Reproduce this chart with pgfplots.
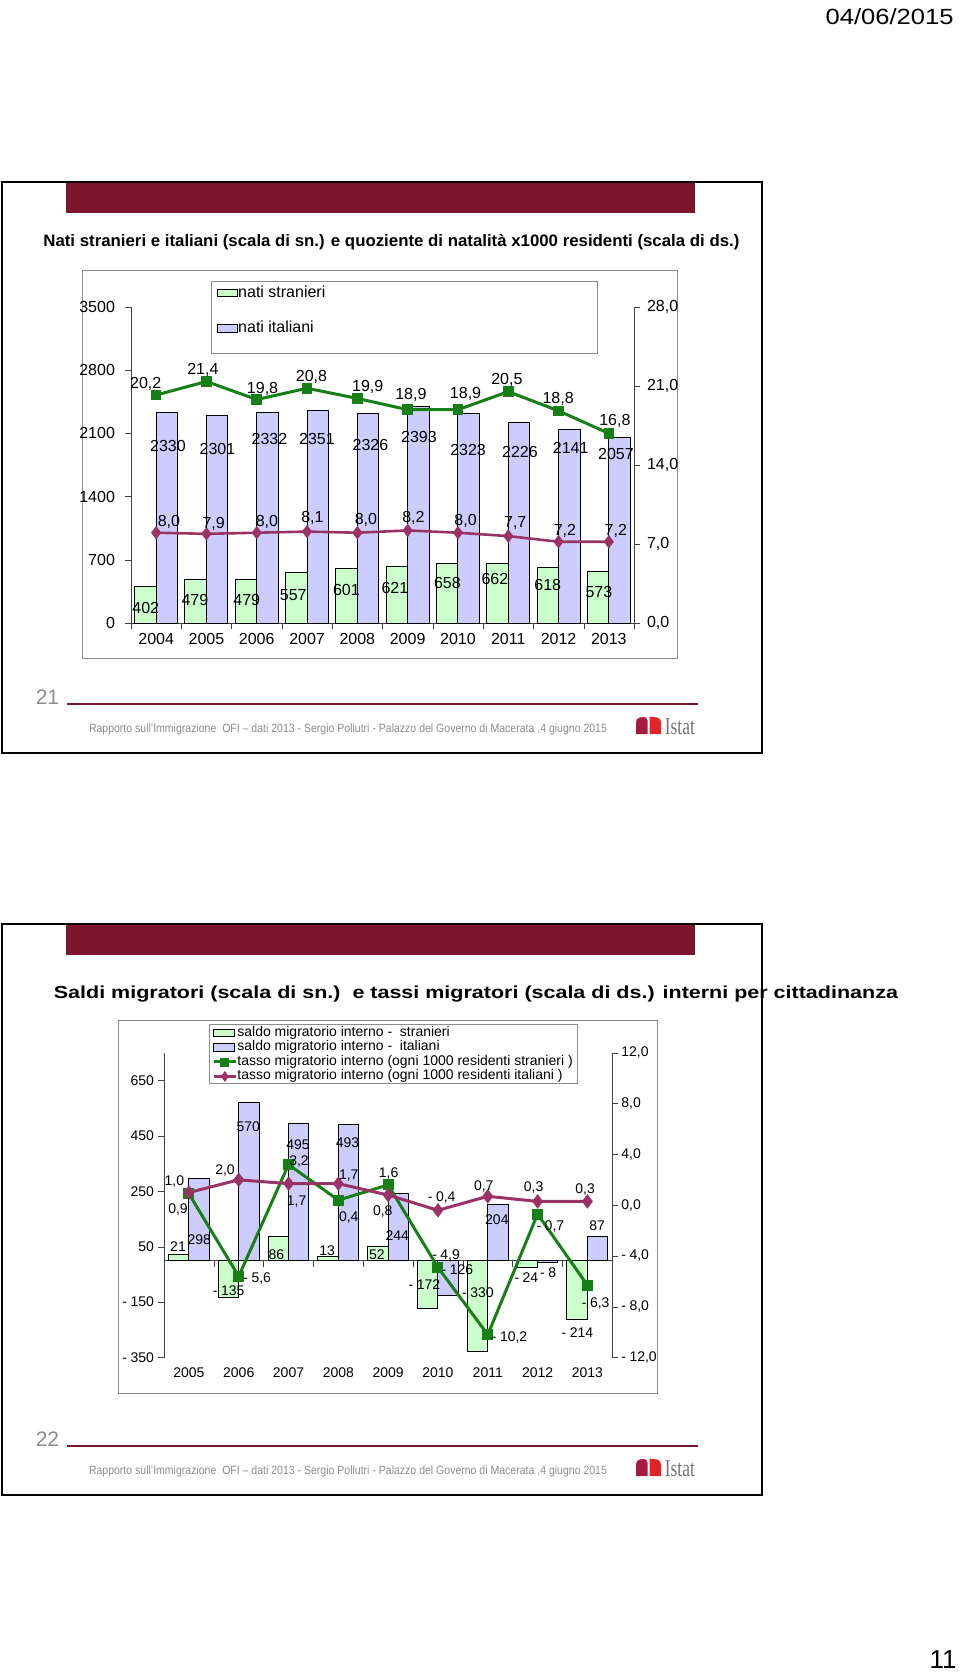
\documentclass[border=0pt]{standalone}
\usepackage{pgfplots}
\pgfplotsset{compat=1.18}
\usepackage{pgfplotstable}
\usepackage{graphicx}
\usepackage{fontspec}
\setmainfont{Liberation Sans}
\newfontfamily\seriffont{Liberation Serif}

\definecolor{hdr}{RGB}{124,22,44}
\definecolor{stgreen}{RGB}{204,255,204}
\definecolor{itpurple}{RGB}{204,204,255}
\definecolor{slgreen}{RGB}{22,128,22}
\definecolor{slpurple}{RGB}{153,51,102}
\definecolor{footgray}{RGB}{140,140,140}
\definecolor{framegray}{RGB}{140,140,140}
\definecolor{logoA}{RGB}{165,28,62}
\definecolor{logoB}{RGB}{226,36,38}

\newcommand\fa{\fontsize{8}{9.6}\selectfont}
\newcommand\fb{\fontsize{7}{8.4}\selectfont}
\newcommand\m{-\kern0.25em}
% value label #3, centred #1 pt right and #2 pt above its point
\newcommand\lb[3]{\smash{\raisebox{\dimexpr#2pt-0.36em\relax}{\makebox[0pt]{\hspace{#1pt}\hspace{#1pt}#3}}}}

% #1 font, #2 bar shift of the series
\pgfplotsset{
  lbl/.style 2 args={nodes near coords, point meta=explicit symbolic,
    every node near coord/.append style={anchor=base, inner sep=0pt,
      text=black, font=#1, xshift=#2}},
}

% slide 21: nati stranieri / italiani, quoziente di natalita
\pgfplotstableread{
x y lab
0 402 \lb{0.2}{-10.7}{402}
1 479 \lb{-0.4}{-10.2}{479}
2 479 \lb{0.4}{-10.2}{479}
3 557 \lb{-1.5}{-10.9}{557}
4 601 \lb{-0.1}{-10.6}{601}
5 621 \lb{-1.0}{-10.4}{621}
6 658 \lb{0.1}{-9.5}{658}
7 662 \lb{-1.3}{-7.6}{662}
8 618 \lb{0.0}{-8.7}{618}
9 573 \lb{0.4}{-10.1}{573}
}\natiS
\pgfplotstableread{
x y lab
0 2330 \lb{0.5}{-16.7}{2330}
1 2301 \lb{0.1}{-16.9}{2301}
2 2332 \lb{1.0}{-13.3}{2332}
3 2351 \lb{-0.4}{-14.2}{2351}
4 2326 \lb{1.2}{-16.0}{2326}
5 2393 \lb{0.3}{-15.1}{2393}
6 2323 \lb{-0.3}{-18.4}{2323}
7 2226 \lb{0.5}{-15.0}{2226}
8 2141 \lb{0.7}{-9.2}{2141}
9 2057 \lb{-1.8}{-8.1}{2057}
}\natiI
\pgfplotstableread{
x y lab
0 20.2 \lb{-5.2}{6.0}{20,2}
1 21.4 \lb{-1.8}{6.5}{21,4}
2 19.8 \lb{2.9}{6.0}{19,8}
3 20.8 \lb{2.2}{6.1}{20,8}
4 19.9 \lb{5.2}{6.3}{19,9}
5 18.9 \lb{1.6}{7.8}{18,9}
6 18.9 \lb{3.8}{8.3}{18,9}
7 20.5 \lb{-0.7}{6.4}{20,5}
8 18.8 \lb{-0.2}{6.4}{18,8}
9 16.8 \lb{3.0}{6.8}{16,8}
}\quozS
\pgfplotstableread{
x y lab
0 8.0 \lb{6.4}{6.1}{8,0}
1 7.9 \lb{3.6}{5.4}{7,9}
2 8.0 \lb{5.1}{6.1}{8,0}
3 8.1 \lb{2.7}{7.4}{8,1}
4 8.0 \lb{4.3}{7.0}{8,0}
5 8.2 \lb{2.9}{6.9}{8,2}
6 8.0 \lb{3.8}{6.7}{8,0}
7 7.7 \lb{3.5}{7.2}{7,7}
8 7.2 \lb{3.2}{6.2}{7,2}
9 7.2 \lb{3.5}{6.2}{7,2}
}\quozI

% slide 22: saldi e tassi migratori interni
\pgfplotstableread{
x y lab
0 21 \lb{-0.35}{4.4}{21}
1 -135 \lb{0.1}{3.8}{\m135}
2 86 \lb{-1.0}{-8.6}{86}
3 13 \lb{-0.55}{3.3}{13}
4 52 \lb{-0.55}{-4.2}{52}
5 -172 \lb{-1.65}{12.1}{\m172}
6 -330 \lb{0.15}{30.0}{\m330}
7 -24 \lb{-0.5}{-4.9}{\m24}
8 -214 \lb{0.15}{-6.55}{\m214}
}\saldoS
\pgfplotstableread{
x y lab
0 298 \lb{0.1}{-30.75}{298}
1 570 \lb{-0.35}{-12.1}{570}
2 495 \lb{-0.35}{-10.4}{495}
3 493 \lb{-0.55}{-8.95}{493}
4 244 \lb{-0.55}{-21.0}{244}
5 -126 \lb{4.65}{13.1}{\m126}
6 204 \lb{-0.55}{-7.6}{204}
7 -8 \lb{0.15}{-5.05}{\m8}
8 87 \lb{-0.25}{5.55}{87}
}\saldoI
\pgfplotstableread{
x y lab
0 0.9 \lb{-5.45}{-7.4}{0,9}
1 -5.6 \lb{9.25}{-0.35}{\m5,6}
2 3.2 \lb{5.25}{2.1}{3,2}
3 0.4 \lb{5.2}{-8.15}{0,4}
4 1.6 \lb{0.25}{6.0}{1,6}
5 -4.9 \lb{4.05}{6.7}{\m4,9}
6 -10.2 \lb{10.9}{-0.7}{\m10,2}
7 -0.7 \lb{6.4}{-5.65}{\m0,7}
8 -6.3 \lb{4.15}{-8.45}{\m6,3}
}\tassoS
\pgfplotstableread{
x y lab
0 1.0 \lb{-7.25}{6.25}{1,0}
1 2.0 \lb{-6.85}{5.25}{2,0}
2 1.7 \lb{4.05}{-8.4}{1,7}
3 1.7 \lb{5.2}{4.65}{1,7}
4 0.8 \lb{-2.7}{-7.5}{0,8}
5 -0.4 \lb{1.85}{7.15}{\m0,4}
6 0.7 \lb{-2.0}{5.65}{0,7}
7 0.3 \lb{-2.0}{7.7}{0,3}
8 0.3 \lb{-1.15}{6.4}{0,3}
}\tassoI

% slide frame, header, footer and logo (px units, shifted by #1 px)
\newcommand\slideframe[2]{%
\begin{scope}[shift={(0,#1)}]
  \draw[line width=1.1pt] (2,182) rectangle (762,753);
  \fill[hdr] (66,183) rectangle (695,213);
  \node[text=footgray, inner sep=0pt] at (47.5,697) {\fontsize{10.5}{12}\selectfont #2};
  \draw[hdr, line width=1pt] (67,704) -- (698,704);
  \node[anchor=base west, inner sep=0pt, text=footgray] at (88.6,732)
    {\resizebox{259pt}{\height}{\fontsize{6}{7}\selectfont Rapporto sull'Immigrazione\ \ OFI -- dati 2013 - Sergio Pollutri - Palazzo del Governo di Macerata ,4 giugno 2015}};
  \fill[logoA] (636,734) [rounded corners=2pt] -- (636,718) -- (647.5,716.5) [sharp corners] -- (647.5,734) -- cycle;
  \fill[logoB] (649.5,734) -- (649.5,716.5) [rounded corners=2pt] -- (661,718) [sharp corners] -- (661,734) -- cycle;
  \node[anchor=base west, inner sep=0pt, text=black!55] at (664.5,734)
    {\resizebox{15pt}{\height}{\fontsize{12}{12}\selectfont\seriffont Istat}};
\end{scope}}

\begin{document}
\begin{tikzpicture}
\begin{scope}[x=0.5pt,y=-0.5pt]
  \path[use as bounding box] (0,0) rectangle (960,1680);
  \node[anchor=east, inner sep=0pt] at (954,17)
    {\resizebox{64pt}{\height}{\fontsize{11}{13}\selectfont 04/06/2015}};
  \node[anchor=east, inner sep=0pt] at (957,1660) {\fontsize{13}{15}\selectfont 11};
  \slideframe{0}{21}
  \slideframe{742}{22}
  \node[anchor=base west, inner sep=0pt] at (43,246.5)
    {\resizebox{348pt}{\height}{\fontsize{8.3}{10}\selectfont\bfseries Nati stranieri e italiani (scala di sn.) e quoziente di natalità x1000 residenti (scala di ds.)}};
  \node[anchor=base west, inner sep=0pt] at (53.5,998.6)
    {\resizebox{422pt}{\height}{\fontsize{8.7}{10}\selectfont\bfseries Saldi migratori (scala di sn.)\ \ e tassi migratori (scala di ds.) interni per cittadinanza}};
  \draw[framegray] (82,270) rectangle (677,658.5);
  \draw[framegray, fill=white] (211,281) rectangle (597.7,353);
  \draw[framegray] (118.7,1020.7) rectangle (657.6,1393);
  \draw[framegray, fill=white] (209.7,1024.3) rectangle (577.5,1083.6);
\end{scope}

% ---------- slide 21 ----------
\begin{axis}[
  at={(65.5pt,-311.5pt)}, anchor=south west,
  scale only axis, width=251.5pt, height=158pt,
  xmin=-0.5, xmax=9.5, ymin=0, ymax=3500,
  axis y line*=left, axis x line*=bottom,
  axis line style={black!75}, tick style={black!75},
  tick align=outside, major tick length=3pt, minor tick length=3pt,
  xtick={0,...,9},
  xticklabels={2004,2005,2006,2007,2008,2009,2010,2011,2012,2013},
  major x tick style={draw=none},
  minor xtick={-0.5,0.5,...,9.5},
  ytick={0,700,...,3500}, yticklabels={0,700,1400,2100,2800,3500},
  tick label style={font=\fa},
  yticklabel style={xshift=-1.5pt}, xticklabel style={yshift=1.4pt},
  clip=false,
  legend style={at={(0.171,1.0709)}, anchor=north west, draw=none, fill=none,
    inner sep=0pt, row sep=9.7pt, font=\fa,
    nodes={inner sep=0pt, text height=6pt, text depth=2pt},
    cells={anchor=west}, /tikz/every even column/.append style={column sep=1.5pt}},
]
\addplot[ybar, bar width=10.75pt, bar shift=-5.375pt, draw=black, line width=0.5pt,
  fill=stgreen, lbl={\fa}{-5.375pt}, forget plot] table[x=x,y=y,meta=lab]{\natiS};
\addplot[ybar, bar width=10.75pt, bar shift=5.375pt, draw=black, line width=0.5pt,
  fill=itpurple, lbl={\fa}{5.375pt}, forget plot] table[x=x,y=y,meta=lab]{\natiI};
\addlegendimage{legend image code/.code={\draw[black, fill=stgreen] (0pt,-1.8pt) rectangle (10pt,1.8pt);}}
\addlegendentry{nati stranieri}
\addlegendimage{legend image code/.code={\draw[black, fill=itpurple] (0pt,-1.8pt) rectangle (10pt,1.8pt);}}
\addlegendentry{nati italiani}
\end{axis}

\begin{axis}[
  at={(65.5pt,-311.5pt)}, anchor=south west,
  scale only axis, width=251.5pt, height=158pt,
  xmin=-0.5, xmax=9.5, ymin=0, ymax=28,
  axis y line*=right, axis x line=none,
  axis line style={black!75}, tick style={black!75},
  tick align=outside, major tick length=3pt,
  ytick={0,7,...,28}, yticklabels={{0,0},{7,0},{14,0},{21,0},{28,0}},
  tick label style={font=\fa},
  clip=false,
]
\addplot[slgreen, line width=1.5pt, mark=square*, mark size=1.9pt,
  mark options={solid}, lbl={\fa}{0pt}] table[x=x,y=y,meta=lab]{\quozS};
\addplot[slpurple, line width=1.3pt, mark=diamond*, mark size=2.3pt,
  mark options={solid}, lbl={\fa}{0pt}] table[x=x,y=y,meta=lab]{\quozI};
\end{axis}

% ---------- slide 22 ----------
\begin{axis}[
  at={(82pt,-678.75pt)}, anchor=south west,
  scale only axis, width=224.15pt, height=152.3pt,
  xmin=-0.5, xmax=8.5, ymin=-350, ymax=750,
  axis y line*=left, axis x line*=middle,
  axis line style={black!75}, tick style={black!75},
  tick align=outside, major tick length=3pt,
  xtick={-0.5,0.5,...,8.5}, xticklabels={},
  ytick={-350,-150,...,650}, yticklabels={{\m350},{\m150},50,250,450,650},
  tick label style={font=\fb},
  yticklabel style={xshift=1.5pt},
  clip=false,
]
\addplot[ybar, bar width=10.2pt, bar shift=-5.1pt, draw=black, line width=0.5pt,
  fill=stgreen, lbl={\fb}{-5.1pt}, forget plot] table[x=x,y=y,meta=lab]{\saldoS};
\addplot[ybar, bar width=10.2pt, bar shift=5.1pt, draw=black, line width=0.5pt,
  fill=itpurple, lbl={\fb}{5.1pt}, forget plot] table[x=x,y=y,meta=lab]{\saldoI};
\end{axis}

\begin{axis}[
  at={(82pt,-678.75pt)}, anchor=south west,
  scale only axis, width=224.15pt, height=152.3pt,
  xmin=-0.5, xmax=8.5, ymin=-12, ymax=12,
  axis y line*=right, axis x line*=bottom,
  x axis line style={draw=none},
  axis line style={black!75}, tick style={black!75},
  tick align=outside, major tick length=3pt,
  xtick={0,...,8},
  xticklabels={2005,2006,2007,2008,2009,2010,2011,2012,2013},
  major x tick style={draw=none},
  ytick={-12,-8,...,12},
  yticklabels={{\m12,0},{\m8,0},{\m4,0},{0,0},{4,0},{8,0},{12,0}},
  tick label style={font=\fb},
  yticklabel style={xshift=-2pt}, xticklabel style={yshift=1.5pt},
  clip=false,
  legend style={at={(0.107,1.0883)}, anchor=north west, draw=none, fill=none,
    inner sep=0pt, row sep=0.75pt, font=\fb,
    nodes={inner sep=0pt, text height=5pt, text depth=1.5pt},
    cells={anchor=west}, /tikz/every even column/.append style={column sep=1.2pt}},
]
\addplot[slgreen, line width=1.5pt, mark=square*, mark size=2pt,
  mark options={solid}, lbl={\fb}{0pt}, forget plot] table[x=x,y=y,meta=lab]{\tassoS};
\addplot[slpurple, line width=1.5pt, mark=diamond*, mark size=2.4pt,
  mark options={solid}, lbl={\fb}{0pt}, forget plot] table[x=x,y=y,meta=lab]{\tassoI};
\addlegendimage{legend image code/.code={\draw[black, fill=stgreen] (0pt,-1.8pt) rectangle (10.5pt,1.8pt);}}
\addlegendentry{saldo migratorio interno -\ \ stranieri}
\addlegendimage{legend image code/.code={\draw[black, fill=itpurple] (0pt,-1.8pt) rectangle (10.5pt,1.8pt);}}
\addlegendentry{saldo migratorio interno -\ \ italiani}
\addlegendimage{legend image code/.code={\draw[slgreen, line width=1.5pt] (0pt,0pt) -- (11pt,0pt);
  \fill[slgreen] (3.5pt,-2pt) rectangle (7.5pt,2pt);}}
\addlegendentry{tasso migratorio interno (ogni 1000 residenti stranieri )}
\addlegendimage{legend image code/.code={\draw[slpurple, line width=1.5pt] (0pt,0pt) -- (11pt,0pt);
  \fill[slpurple] (5.5pt,-2.4pt) -- (7.2pt,0pt) -- (5.5pt,2.4pt) -- (3.8pt,0pt) -- cycle;}}
\addlegendentry{tasso migratorio interno (ogni 1000 residenti italiani )}
\end{axis}
\end{tikzpicture}
\end{document}
